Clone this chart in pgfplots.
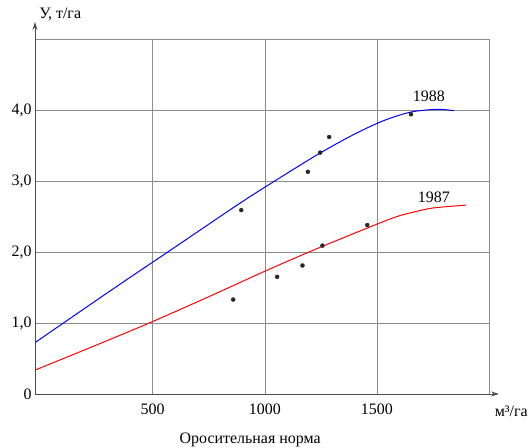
\documentclass[border=0pt]{standalone}
\usepackage{pgfplots}
\pgfplotsset{compat=1.18}
\usepackage{fontspec}
\setmainfont{Liberation Serif}
\usetikzlibrary{arrows.meta}
\begin{document}
\begin{tikzpicture}
\begin{axis}[scale only axis,width=454bp,height=355bp,
  xmin=-25,xmax=2000,ymin=0,ymax=5,
  axis lines=left,
  x axis line style={-{Stealth[length=8bp,width=5bp]},shorten >=-10bp,black!70,line width=0.8pt},
  y axis line style={-{Stealth[length=8bp,width=5bp]},shorten >=-17bp,black!70,line width=0.8pt},
  xtick={500,1000,1500,2000},xticklabels={500,1000,1500,{}},
  ytick={0,1,2,3,4,5},yticklabels={0,{1,0},{2,0},{3,0},{4,0},{}},
  major tick length=0pt,
  grid=major,grid style={black!45,line width=0.6pt},
  xticklabel style={yshift=-6bp},
  tick label style={font=\fontsize{16}{18}\selectfont},
  /pgf/number format/assume math mode=true,
  clip=false]
\addplot[blue,line width=1pt,smooth] coordinates {(-22,0.73)(300,1.43)(600,2.07)(900,2.71)(1100,3.11)(1250,3.40)(1400,3.66)(1530,3.85)(1650,3.97)(1770,4.01)(1843,3.99)};
\addplot[red,line width=1pt,smooth] coordinates {(-22,0.34)(230,0.665)(485,1.0)(750,1.37)(1015,1.75)(1250,2.07)(1514,2.41)(1600,2.51)(1661,2.56)(1750,2.62)(1897,2.66)};
\addplot[only marks,mark=*,mark size=2pt,black!85] coordinates {(895,2.59)(1192,3.13)(1247,3.40)(1287,3.62)(1652,3.94)(859,1.33)(1055,1.65)(1168,1.81)(1257,2.09)(1457,2.38)};
\node[font=\fontsize{16}{18}\selectfont] at (axis cs:1732,4.2) {1988};
\node[font=\fontsize{16}{18}\selectfont] at (axis cs:1754,2.77) {1987};
\node[anchor=west,font=\fontsize{16}{18}\selectfont] at (axis description cs:0.002,1.068) {У, т/га};
\node[anchor=west,font=\fontsize{16}{18}\selectfont] at (axis description cs:1.005,-0.05) {м³/га};
\node[font=\fontsize{16}{18}\selectfont] at (axis description cs:0.474,-0.13) {Оросительная норма};
\end{axis}
\pgfresetboundingbox
\path (-35bp,-54bp) rectangle (495bp,394bp);
\end{tikzpicture}
\end{document}
